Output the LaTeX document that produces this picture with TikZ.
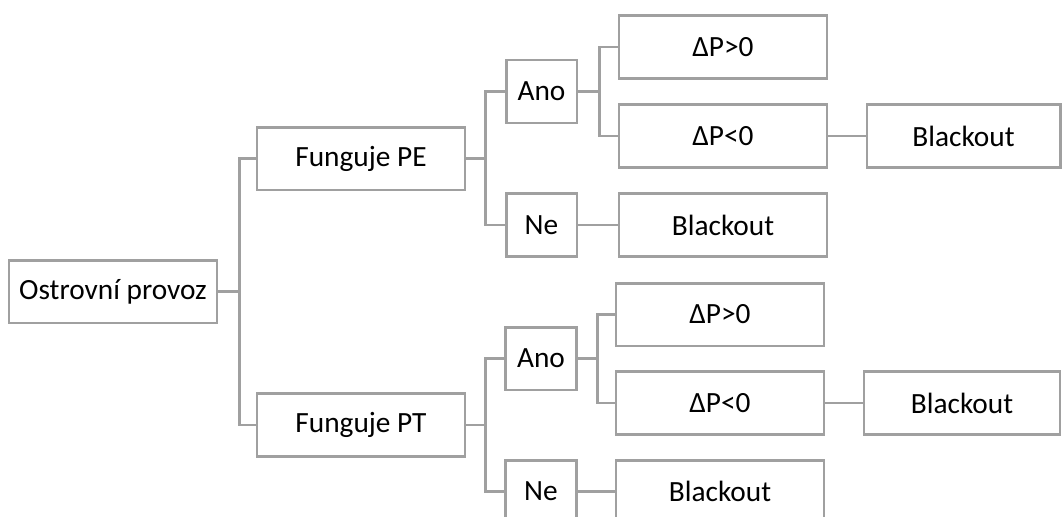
\documentclass[tikz,border=0pt]{standalone}
\usepackage{fontspec}
\setmainfont{Carlito}
\definecolor{linegray}{HTML}{A0A0A0}
\begin{document}
\begin{tikzpicture}[x=0.75pt,y=-0.75pt,
  box/.style={draw=linegray,line width=2pt,fill=white,minimum height=47pt,inner sep=0pt,
    font=\fontsize{22}{25}\selectfont,text=black},
  wide/.style={box,minimum width=156pt},
  narrow/.style={box,minimum width=53pt},
  conn/.style={draw=linegray,line width=2pt}]
\clip (0,0) rectangle (1063,517);
\node[box,minimum width=156pt] (root) at (113,291.5) {Ostrovní provoz};
\node[wide] (pe) at (361,158.5) {Funguje PE};
\node[wide] (pt) at (361,425) {Funguje PT};
\node[narrow] (anoE) at (541.5,91.5) {Ano};
\node[narrow] (neE) at (541.5,225) {Ne};
\node[wide] (dpE1) at (723,47) {ΔP>0};
\node[wide] (dpE2) at (723,136) {ΔP<0};
\node[wide] (blE) at (723,225) {Blackout};
\node[box,minimum width=145pt] (blE2) at (963.5,136) {Blackout};
\node[narrow] (anoT) at (541,358.5) {Ano};
\node[narrow] (neT) at (541,491.5) {Ne};
\node[wide] (dpT1) at (720,314.5) {ΔP>0};
\node[wide] (dpT2) at (720,403) {ΔP<0};
\node[wide] (blT) at (720,491.5) {Blackout};
\node[box,minimum width=147pt] (blT2) at (962,403) {Blackout};
% connectors
\draw[conn] (root.east) -- ++(21,0) coordinate (f0) |- (pe.west);
\draw[conn] (f0) |- (pt.west);
\draw[conn] (pe.east) -- ++(19,0) coordinate (f1) |- (anoE.west);
\draw[conn] (f1) |- (neE.west);
\draw[conn] (anoE.east) -- ++(21,0) coordinate (f2) |- (dpE1.west);
\draw[conn] (f2) |- (dpE2.west);
\draw[conn] (neE.east) -- (blE.west);
\draw[conn] (dpE2.east) -- (blE2.west);
\draw[conn] (pt.east) -- ++(19,0) coordinate (f3) |- (anoT.west);
\draw[conn] (f3) |- (neT.west);
\draw[conn] (anoT.east) -- ++(20,0) coordinate (f4) |- (dpT1.west);
\draw[conn] (f4) |- (dpT2.west);
\draw[conn] (neT.east) -- (blT.west);
\draw[conn] (dpT2.east) -- (blT2.west);
\end{tikzpicture}
\end{document}
